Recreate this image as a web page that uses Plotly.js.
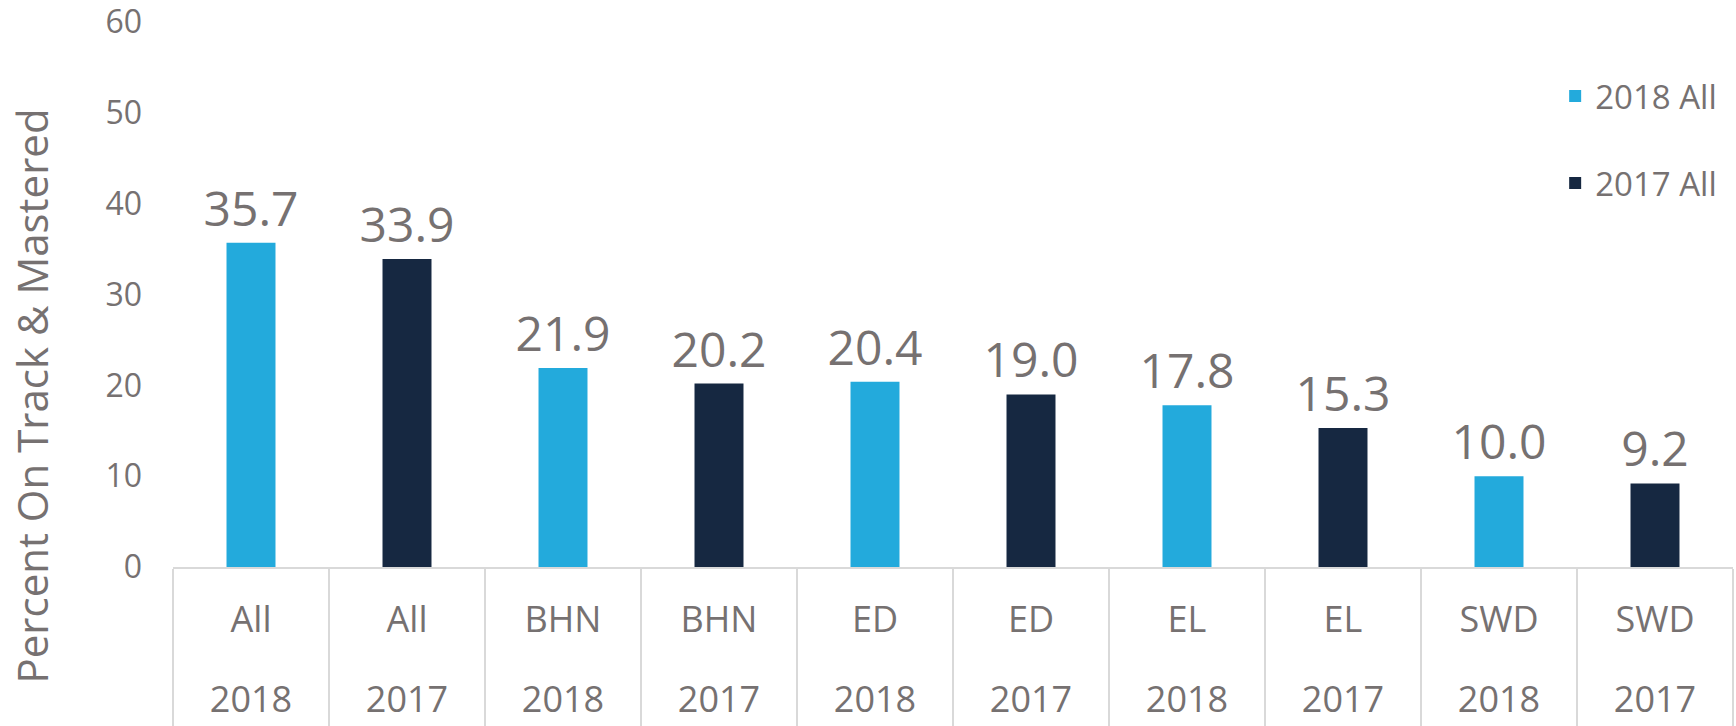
<!DOCTYPE html>
<html>
<head>
<meta charset="utf-8">
<script src="https://cdn.plot.ly/plotly-3.0.1.min.js"></script>
<style>
html,body{margin:0;padding:0;background:#ffffff;}
#chart{width:1736px;height:726px;}
</style>
</head>
<body>
<div id="chart"></div>
<script>
// ---- data ----
const groups = ["All","All","BHN","BHN","ED","ED","EL","EL","SWD","SWD"];
const years  = ["2018","2017","2018","2017","2018","2017","2018","2017","2018","2017"];
const values = [35.7, 33.9, 21.9, 20.2, 20.4, 19.0, 17.8, 15.3, 10.0, 9.2];
const seriesYears = ["2018","2017"];
const seriesNames = ["2018 All","2017 All"];
const yTicks = [0, 10, 20, 30, 40, 50, 60];
const yTitle = "Percent On Track & Mastered";

// ---- styles ----
const colors = {"2018": "#23AADC", "2017": "#162841"};
const textColor = "#767171";
const lineColor = "#d9d9d9";
const font = "Open Sans, sans-serif";

const ids = groups.map((g, i) => g + " " + years[i]);
const positions = groups.map((g, i) => i);

const traces = seriesYears.map((yr, k) => {
  const x = [], y = [];
  ids.forEach((id, i) => { if (years[i] === yr) { x.push(id); y.push(values[i]); } });
  return {
    type: "bar",
    name: seriesNames[k],
    legendgroup: "g" + k,
    x: x, y: y,
    width: 0.314,
    marker: {color: colors[yr]},
    texttemplate: "%{y:.1f}",
    textposition: "outside",
    textangle: 0,
    constraintext: "none",
    cliponaxis: false,
    textfont: {family: font, size: 48, color: textColor},
    hoverinfo: "skip"
  };
});

// carrier trace (draws nothing) so the year-label axis is laid out
traces.push({
  type: "scatter", mode: "none",
  x: positions, y: values,
  xaxis: "x2", yaxis: "y",
  showlegend: false, hoverinfo: "skip"
});

const layout = {
  width: 1736, height: 726,
  margin: {l: 173, r: 3, t: 22, b: 159},
  paper_bgcolor: "#ffffff", plot_bgcolor: "#ffffff",
  barmode: "overlay",
  showlegend: true,
  legend: {
    x: 0.886, y: 0.9155, xanchor: "left", yanchor: "top",
    font: {family: font, size: 33, color: textColor},
    traceorder: "grouped", tracegroupgap: 41,
    bgcolor: "rgba(0,0,0,0)"
  },
  xaxis: {
    type: "category",
    categoryorder: "array", categoryarray: ids,
    range: [-0.5, ids.length - 0.5],
    tickmode: "array", tickvals: ids, ticktext: groups,
    ticks: "outside", tickson: "boundaries",
    ticklen: 160, tickwidth: 2, tickcolor: lineColor,
    showline: true, linecolor: lineColor, linewidth: 2,
    showgrid: false, zeroline: false,
    tickfont: {family: font, size: 36, color: textColor},
    ticklabelstandoff: 20,
    fixedrange: true
  },
  xaxis2: {
    type: "linear", overlaying: "x", anchor: "y", side: "bottom",
    range: [-0.5, ids.length - 0.5],
    tickmode: "array", tickvals: positions, ticktext: years,
    ticks: "", showline: false, showgrid: false, zeroline: false,
    tickfont: {family: font, size: 36, color: textColor},
    ticklabelstandoff: 108,
    ticklabeloverflow: "allow",
    fixedrange: true
  },
  yaxis: {
    range: [0, 60],
    tickmode: "array", tickvals: yTicks,
    showgrid: false, zeroline: false, showline: false, ticks: "",
    tickfont: {family: font, size: 32, color: textColor},
    ticklabelstandoff: 30,
    ticklabeloverflow: "allow",
    fixedrange: true
  },
  annotations: [{
    text: yTitle,
    xref: "paper", yref: "paper",
    x: -0.0907, y: 0.3138,
    xanchor: "center", yanchor: "middle",
    textangle: -90, showarrow: false,
    font: {family: font, size: 42, color: textColor}
  }]
};

Plotly.newPlot("chart", traces, layout, {displayModeBar: false, staticPlot: true});
</script>
</body>
</html>
